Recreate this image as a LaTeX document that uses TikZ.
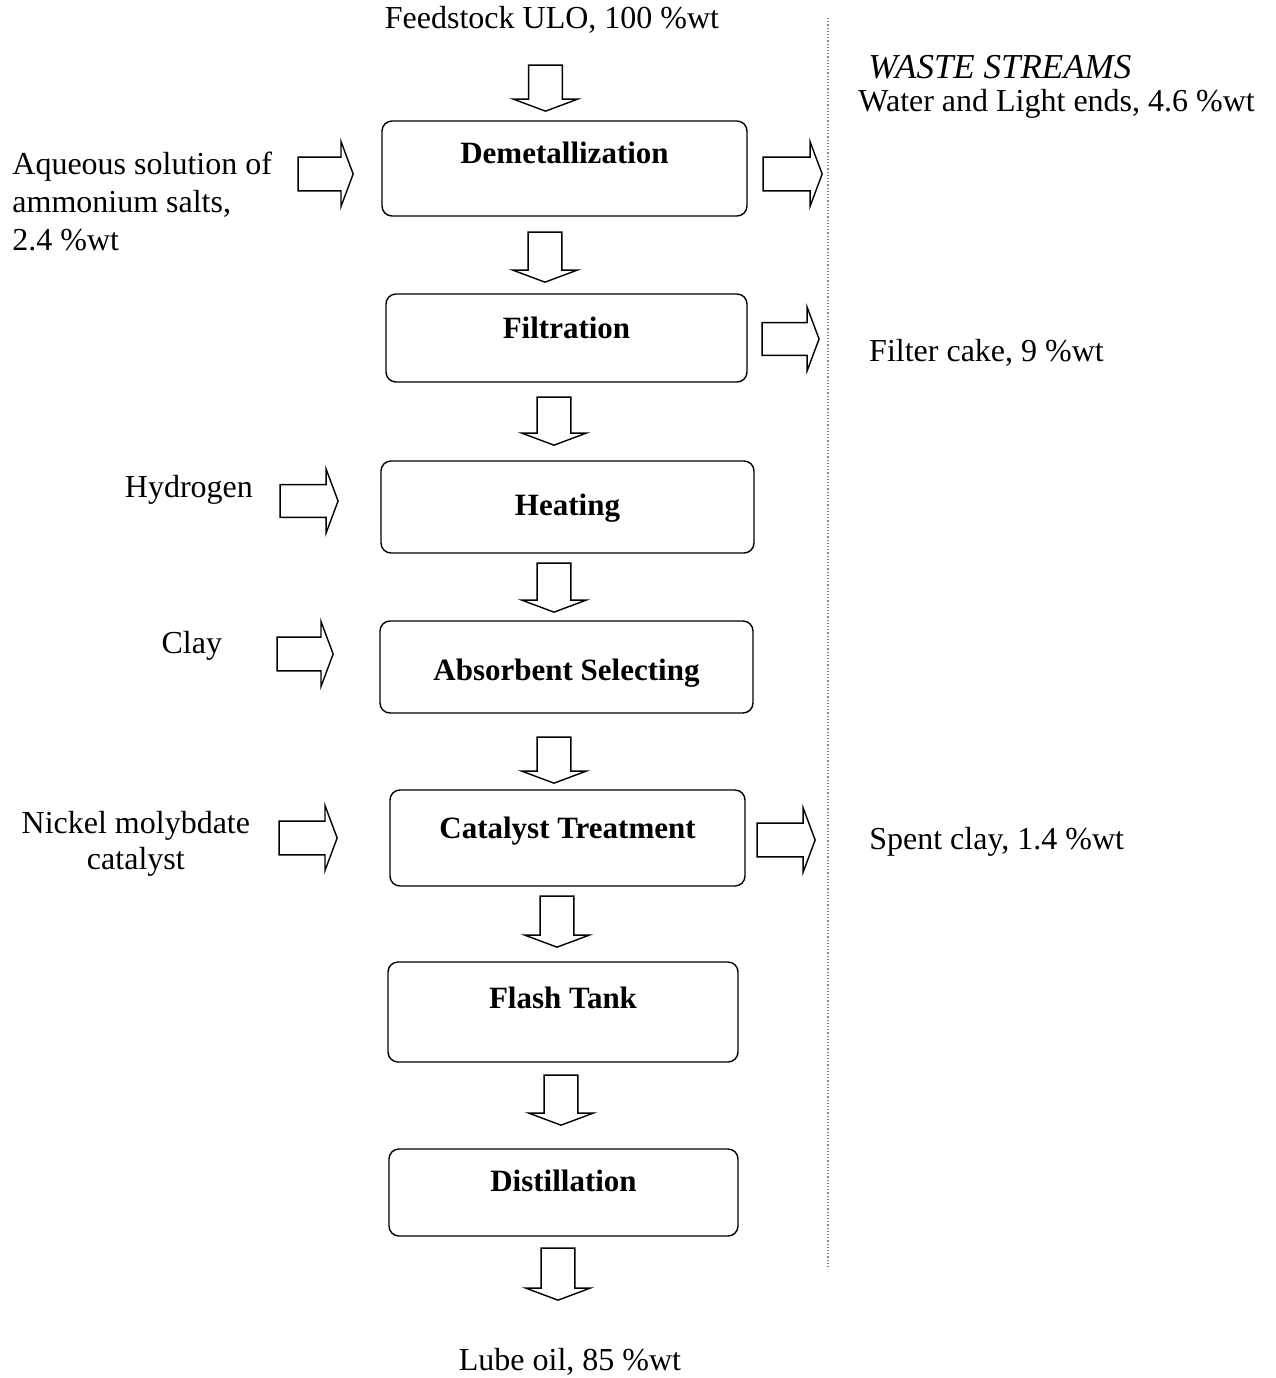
\documentclass[tikz,border=0pt]{standalone}
\usepackage{fontspec}
\setmainfont{Liberation Serif}
\usetikzlibrary{positioning}
\usetikzlibrary{shapes.arrows}

\begin{document}
\begin{tikzpicture}[x=0.5pt,y=-0.5pt,
		note/.style={inner sep=0pt,font=\fontsize{16}{19}\selectfont},
		unit/.style={draw,rectangle,rounded corners=5pt,line width=0.7pt,font=\fontsize{15.5}{18}\selectfont\bfseries,text height=11pt,text depth=3pt},
		flow/.style={draw,single arrow,line width=0.7pt,inner xsep=0pt,inner ysep=8.1pt,minimum width=32pt,single arrow head extend=7.75pt,single arrow head indent=0pt,single arrow tip angle=139},
		down/.style={flow,rotate=-90}]
		\useasboundingbox (0,0) rectangle (1276,1378);
		% process units
		\node[unit,minimum width=182.5pt,minimum height=47.5pt,text depth=16.5pt] at (564.5,168.5) (demet) {Demetallization};
		\node[unit,minimum width=180.5pt,minimum height=44pt,text depth=11pt] at (566.5,338) (filt) {Filtration};
		\node[unit,minimum width=186.5pt,minimum height=46pt] at (567.5,507) (heat) {Heating};
		\node[unit,minimum width=186.5pt,minimum height=46pt,text height=16pt] at (566.5,667) (absorb) {Absorbent Selecting};
		\node[unit,minimum width=177.5pt,minimum height=48pt,text depth=11pt] at (567.5,838) (cat) {Catalyst Treatment};
		\node[unit,minimum width=175pt,minimum height=50pt,text depth=15pt] at (563,1012) (flash) {Flash Tank};
		\node[unit,minimum width=174.5pt,minimum height=43.5pt,text depth=12.5pt] at (563.5,1192.5) (dist) {Distillation};
		% main stream
		\node[down,minimum height=23pt] at (545.5,85) (a0) {};
		\node[down,minimum height=25pt] at (545,254) (a1) {};
		\node[down,minimum height=24pt] at (554,418) (a2) {};
		\node[down,minimum height=24.5pt] at (554,584.5) (a3) {};
		\node[down,minimum height=23pt] at (554,757) (a4) {};
		\node[down,minimum height=25.5pt] at (557,918.5) (a5) {};
		\node[down,minimum height=25pt] at (561,1097) (a6) {};
		\node[down,minimum height=26pt] at (558,1271) (a7) {};
		\node[note] at (552,20) (feed) {Feedstock ULO, 100 \%wt};
		\node[note] at (570,1362) (lube) {Lube oil, 85 \%wt};
		% inputs
		\node[flow,minimum height=27.5pt] at (322.5,174) (in1) {};
		\node[flow,minimum height=29pt,inner ysep=7.75pt] at (306,501) (in3) {};
		\node[flow,minimum height=28pt] at (302,654) (in4) {};
		\node[flow,minimum height=29pt] at (305,838) (in5) {};
		\node[note,anchor=west,align=left] at (12,201) (aq) {Aqueous solution of\\ammonium salts,\\2.4 \%wt};
		\node[note,left = 13pt of in3,yshift=5.5pt] (hyd) {Hydrogen};
		\node[note,left = 27pt of in4,yshift=4pt] (clay) {Clay};
		\node[note,left = 14pt of in5,yshift=-3pt,align=center,font=\fontsize{16}{18}\selectfont] (nick) {Nickel molybdate\\catalyst};
		% waste streams
		\node[flow,minimum height=29.5pt] at (789.5,174) (out1) {};
		\node[flow,minimum height=28.5pt,inner ysep=7.75pt] at (787.5,339) (out2) {};
		\node[flow,minimum height=29pt] at (783,840) (out5) {};
		\coordinate (sep1) at (828,18);
		\coordinate (sep2) at (828,1268);
		\draw[gray,line width=0.6pt,densely dotted] (sep1) -- (sep2);
		\node[note,anchor=west,font=\fontsize{17.5}{20}\selectfont\itshape] at (868,67) (waste) {WASTE STREAMS};
		\node[note,anchor=west] at (858,104) (water) {Water and Light ends, 4.6 \%wt};
		\node[note,right = 24.5pt of out2,yshift=-7pt] (cake) {Filter cake, 9 \%wt};
		\node[note,right = 26.5pt of out5,yshift=-1pt] (spent) {Spent clay, 1.4 \%wt};
	\end{tikzpicture}
\end{document}
